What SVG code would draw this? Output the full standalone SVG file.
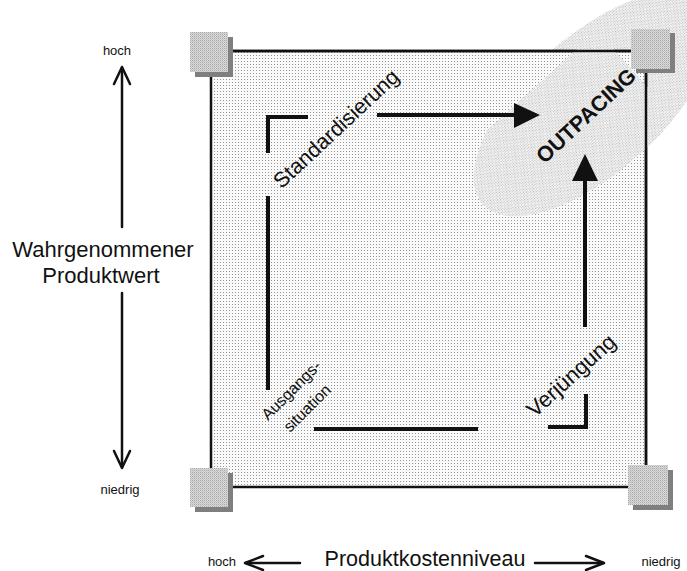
<svg xmlns="http://www.w3.org/2000/svg" width="687" height="571" viewBox="0 0 687 571">
  <style>
    .lbl { font-family: "Liberation Sans", Arial, sans-serif; fill: #111; }
    .axis { stroke: #111; stroke-width: 2.5; fill: none; stroke-linecap: round; stroke-linejoin: round; }
    .route { stroke: #111; stroke-width: 4; fill: none; stroke-linecap: butt; stroke-linejoin: miter; }
    .head { fill: #111; stroke: none; }
    .frame { fill: url(#dotsLight); stroke: #111; stroke-width: 2.5; }
    .corner { fill: url(#dotsCorner); }
    .shadow { fill: #7f7f7f; }
  </style>
  <defs>
    <!-- fine stipple used for the field -->
    <pattern id="dotsLight" width="3" height="3" patternUnits="userSpaceOnUse">
      <rect width="3" height="3" fill="#fafafa"/>
      <rect x="1" y="1" width="1" height="1" fill="#949494"/>
    </pattern>
    <!-- denser stipple for the highlight zone -->
    <pattern id="dotsDense" width="2" height="2" patternUnits="userSpaceOnUse">
      <rect width="2" height="2" fill="#f3f3f3"/>
      <rect x="0" y="0" width="1" height="1" fill="#b9b9b9"/>
    </pattern>
    <!-- grainy grey for the corner blocks -->
    <pattern id="dotsCorner" width="2" height="2" patternUnits="userSpaceOnUse">
      <rect width="2" height="2" fill="#dadada"/>
      <rect x="0" y="0" width="1" height="1" fill="#a8a8a8"/>
      <rect x="1" y="1" width="1" height="1" fill="#c4c4c4"/>
    </pattern>
    <clipPath id="fieldClip"><rect x="212" y="52" width="433" height="434"/></clipPath>
  </defs>

  <!-- highlight zone behind the top-right corner -->
  <ellipse id="highlight" cx="594" cy="104" rx="150" ry="68" transform="rotate(-42 594 104)" fill="url(#dotsDense)"/>

  <!-- portfolio field -->
  <g id="field">
    <rect class="frame" x="211" y="51" width="435" height="436"/>
    <ellipse cx="594" cy="104" rx="150" ry="68" transform="rotate(-42 594 104)" fill="url(#dotsDense)" clip-path="url(#fieldClip)"/>
    <line x1="646" y1="51" x2="646" y2="487" stroke="#111" stroke-width="2.5"/>
    <line x1="211" y1="51" x2="646" y2="51" stroke="#111" stroke-width="2.5"/>
  </g>

  <!-- corner blocks -->
  <g id="corner-tl">
    <rect class="shadow" x="195" y="37" width="38" height="40"/>
    <rect class="corner" x="190" y="32" width="38" height="40"/>
  </g>
  <g id="corner-tr">
    <rect class="shadow" x="636" y="33" width="39" height="40"/>
    <rect class="corner" x="631" y="29" width="39" height="40"/>
  </g>
  <g id="corner-bl">
    <rect class="shadow" x="195" y="473" width="38" height="39"/>
    <rect class="corner" x="190" y="468" width="38" height="39"/>
  </g>
  <g id="corner-br">
    <rect class="shadow" x="633" y="470" width="40" height="40"/>
    <rect class="corner" x="628" y="465" width="40" height="40"/>
  </g>

  <!-- strategy routes -->
  <g id="connectors">
    <polyline class="route" points="268,153 268,117 308,117"/>
    <line class="route" x1="377" y1="115" x2="516" y2="115"/>
    <polygon class="head" points="540,115 514,103 514,128"/>
    <line class="route" x1="268" y1="196" x2="268" y2="390"/>
    <line class="route" x1="314" y1="429" x2="478" y2="429"/>
    <polyline class="route" points="548,427 586,427 586,394"/>
    <line class="route" x1="585" y1="327" x2="585" y2="179"/>
    <polygon class="head" points="585,154 572,181 598,181"/>
  </g>

  <!-- axes -->
  <g id="axis-value">
    <line class="axis" x1="122" y1="227" x2="122" y2="68"/>
    <polyline class="axis" points="114,84 122,67 130,84"/>
    <line class="axis" x1="122" y1="293" x2="122" y2="467"/>
    <polyline class="axis" points="114,451 122,468 130,451"/>
  </g>
  <g id="axis-cost">
    <line class="axis" x1="300" y1="563" x2="246" y2="563"/>
    <polyline class="axis" points="263,556 245,563 263,570"/>
    <line class="axis" x1="535" y1="563" x2="603" y2="563"/>
    <polyline class="axis" points="586,556 604,563 586,570"/>
  </g>

  <!-- labels -->
  <g id="labels">
    <text class="lbl" x="117" y="55" font-size="13" text-anchor="middle">hoch</text>
    <text class="lbl" x="120" y="494" font-size="13" text-anchor="middle">niedrig</text>
    <text class="lbl" x="103" y="257" font-size="22" text-anchor="middle">Wahrgenommener</text>
    <text class="lbl" x="101" y="283" font-size="22" text-anchor="middle">Produktwert</text>
    <text class="lbl" x="222" y="566" font-size="13" text-anchor="middle">hoch</text>
    <text class="lbl" x="425" y="566" font-size="21.5" text-anchor="middle">Produktkostenniveau</text>
    <text class="lbl" x="661" y="566" font-size="13" text-anchor="middle">niedrig</text>

    <text class="lbl" font-size="21.5" text-anchor="middle" transform="translate(341,134) rotate(-43)">Standardisierung</text>
    <text class="lbl" font-size="21.5" font-weight="bold" text-anchor="middle" transform="translate(591,121) rotate(-43)">OUTPACING</text>
    <text class="lbl" font-size="22" text-anchor="middle" transform="translate(576,381) rotate(-42)">Verjüngung</text>
    <text class="lbl" font-size="16" text-anchor="middle" transform="translate(295,394) rotate(-45)">Ausgangs-</text>
    <text class="lbl" font-size="16" text-anchor="middle" transform="translate(311,412) rotate(-45)">situation</text>
  </g>
</svg>
